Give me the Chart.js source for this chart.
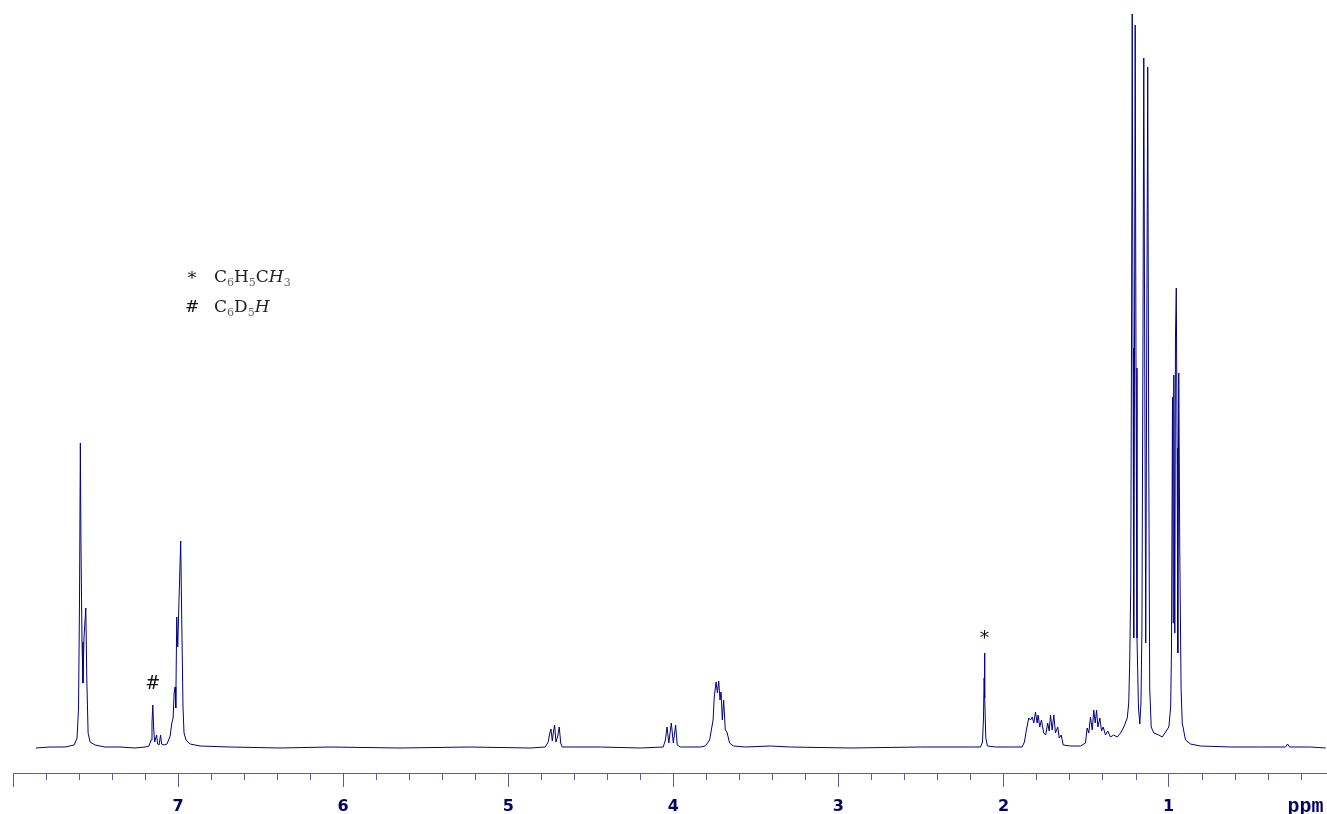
<!DOCTYPE html>
<html>
<head>
<meta charset="utf-8">
<script src="https://cdn.jsdelivr.net/npm/chart.js@4.4.1/dist/chart.umd.min.js"></script>
<style>
  html, body { margin: 0; padding: 0; background: #fff; }
  #wrap { width: 1327px; height: 814px; }
</style>
</head>
<body>
<div id="wrap"><canvas id="nmr" width="1327" height="814"></canvas></div>
<script>
// chemical shift (ppm) and signal height
const shifts = [
  7.861, 7.776, 7.685, 7.630, 7.612, 7.603, 7.597, 7.592, 7.588, 7.582,
  7.576, 7.570, 7.559, 7.553, 7.545, 7.533, 7.503, 7.442, 7.352, 7.261,
  7.200, 7.176, 7.164, 7.158, 7.153, 7.148, 7.142, 7.130, 7.124, 7.115,
  7.106, 7.100, 7.085, 7.067, 7.048, 7.038, 7.030, 7.024, 7.018, 7.014,
  7.008, 7.002, 6.994, 6.984, 6.978, 6.970, 6.964, 6.952, 6.927, 6.867,
  6.685, 6.382, 6.079, 5.655, 5.230, 4.867, 4.776, 4.758, 4.748, 4.741,
  4.733, 4.727, 4.719, 4.711, 4.700, 4.691, 4.682, 4.673, 4.442, 4.200,
  4.061, 4.048, 4.038, 4.027, 4.012, 4.000, 3.986, 3.976, 3.958, 3.836,
  3.806, 3.780, 3.759, 3.752, 3.741, 3.733, 3.725, 3.717, 3.711, 3.703,
  3.695, 3.685, 3.675, 3.659, 3.635, 3.564, 3.412, 3.291, 2.927, 2.503,
  2.200, 2.139, 2.127, 2.121, 2.117, 2.115, 2.112, 2.107, 2.097, 2.048,
  1.958, 1.887, 1.873, 1.861, 1.847, 1.836, 1.826, 1.816, 1.806, 1.796,
  1.790, 1.780, 1.770, 1.756, 1.744, 1.732, 1.723, 1.715, 1.705, 1.695,
  1.685, 1.671, 1.662, 1.650, 1.638, 1.594, 1.533, 1.503, 1.493, 1.483,
  1.473, 1.462, 1.453, 1.444, 1.436, 1.428, 1.416, 1.406, 1.396, 1.382,
  1.368, 1.352, 1.332, 1.311, 1.291, 1.271, 1.250, 1.241, 1.235, 1.229,
  1.224, 1.220, 1.215, 1.211, 1.206, 1.202, 1.197, 1.191, 1.182, 1.174,
  1.167, 1.161, 1.155, 1.150, 1.144, 1.138, 1.132, 1.126, 1.120, 1.114,
  1.105, 1.089, 1.059, 1.038, 1.018, 0.998, 0.987, 0.982, 0.976, 0.972,
  0.968, 0.962, 0.958, 0.953, 0.948, 0.944, 0.938, 0.932, 0.924, 0.917,
  0.897, 0.867, 0.806, 0.624, 0.442, 0.291, 0.279, 0.267, 0.139, 0.048
];
const intensities = [
  0, 1, 1, 3, 10, 40, 150, 305, 200, 106,
  65, 110, 140, 70, 15, 6, 3, 1, 1, 0,
  1, 2, 8, 25, 43, 20, 6, 13, 4, 3,
  13, 4, 3, 4, 12, 25, 30, 55, 61, 40,
  131, 101, 150, 207, 130, 40, 15, 8, 4, 2,
  1, 0, 1, 0, 1, 0, 1, 6, 15, 19,
  7, 15, 23, 6, 12, 21, 5, 1, 1, 0,
  1, 8, 21, 5, 25, 5, 23, 3, 1, 1,
  2, 8, 28, 51, 66, 55, 67, 48, 56, 28,
  48, 18, 16, 5, 2, 1, 2, 1, 0, 1,
  1, 1, 6, 30, 70, 95, 50, 10, 2, 1,
  1, 1, 6, 18, 30, 28, 31, 25, 36, 25,
  33, 21, 28, 15, 13, 25, 17, 33, 18, 33,
  15, 21, 10, 13, 3, 2, 2, 5, 20, 15,
  31, 18, 38, 25, 38, 21, 30, 17, 21, 13,
  17, 11, 13, 11, 15, 21, 30, 45, 88, 160,
  420, 734, 400, 110, 400, 723, 380, 110, 40, 24,
  45, 120, 400, 690, 380, 105, 400, 681, 300, 60,
  21, 15, 13, 11, 16, 21, 41, 100, 351, 125,
  373, 115, 410, 460, 300, 95, 375, 200, 60, 25,
  8, 4, 2, 1, 1, 1, 4, 1, 1, 0
];

const majorTicks = [1, 2, 3, 4, 5, 6, 7, 8];
const minorTicks = [
  0.2, 0.4, 0.6, 0.8, 1.2, 1.4, 1.6, 1.8, 2.2, 2.4, 2.6, 2.8,
  3.2, 3.4, 3.6, 3.8, 4.2, 4.4, 4.6, 4.8, 5.2, 5.4, 5.6, 5.8,
  6.2, 6.4, 6.6, 6.8, 7.2, 7.4, 7.6, 7.8
];
const unitLabel = 'ppm';

// peak markers
const markShifts = [7.153, 2.115];
const markLevels = [64, 109];
const markTexts = ['#', '*'];

// key in the upper left
const keySymbols = ['*', '#'];
const keyFormulas = [
  [['C', 'n'], ['6', 's'], ['H', 'n'], ['5', 's'], ['C', 'n'], ['H', 'i'], ['3', 's']],
  [['C', 'n'], ['6', 's'], ['D', 'n'], ['5', 's'], ['H', 'i']]
];

const axisColor = '#5b5b99';
const lineColor = '#000080';

const spectrumExtras = {
  id: 'spectrumExtras',
  afterDraw(chart) {
    const { ctx, scales: { x, y } } = chart;
    ctx.save();

    // minor ticks
    ctx.strokeStyle = axisColor;
    ctx.lineWidth = 1;
    ctx.beginPath();
    minorTicks.forEach(v => {
      const px = Math.round(x.getPixelForValue(v)) + 0.5;
      ctx.moveTo(px, x.top);
      ctx.lineTo(px, x.top + 7);
    });
    ctx.stroke();

    // unit label
    ctx.fillStyle = '#000066';
    ctx.font = 'bold 20px "Liberation Mono"';
    ctx.textAlign = 'center';
    ctx.textBaseline = 'alphabetic';
    ctx.fillText(unitLabel, x.getPixelForValue(0.17), 812);

    // peak markers
    ctx.fillStyle = '#111';
    ctx.font = '18px "DejaVu Serif"';
    ctx.textBaseline = 'middle';
    markTexts.forEach((t, i) => {
      ctx.fillText(t, x.getPixelForValue(markShifts[i]), y.getPixelForValue(markLevels[i]));
    });

    // key
    const drawFormula = (parts, left, base) => {
      let cx = left;
      parts.forEach(([t, kind]) => {
        if (kind === 's') {
          ctx.font = '11px "DejaVu Serif"';
          ctx.fillStyle = '#666';
          ctx.fillText(t, cx, base + 4);
        } else {
          ctx.font = (kind === 'i' ? 'italic ' : '') + '17px "DejaVu Serif"';
          ctx.fillStyle = '#222';
          ctx.fillText(t, cx, base);
        }
        cx += ctx.measureText(t).width;
      });
    };
    ctx.textAlign = 'left';
    ctx.textBaseline = 'alphabetic';
    keySymbols.forEach((s, i) => {
      const base = 282 + i * 30;
      ctx.font = '17px "DejaVu Serif"';
      ctx.fillStyle = '#111';
      ctx.textAlign = 'center';
      ctx.fillText(s, 192, s === '*' ? base + 2 : base);
      ctx.textAlign = 'left';
      drawFormula(keyFormulas[i], 214, base);
    });

    ctx.restore();
  }
};

new Chart(document.getElementById('nmr'), {
  type: 'line',
  plugins: [spectrumExtras],
  data: {
    datasets: [{
      data: shifts.map((s, i) => ({ x: s, y: intensities[i] })),
      borderColor: lineColor,
      borderWidth: 1,
      pointRadius: 0,
      tension: 0,
      fill: false
    }]
  },
  options: {
    responsive: false,
    animation: false,
    layout: { padding: { left: 13, right: 0, top: 0, bottom: 0 } },
    plugins: { legend: { display: false }, tooltip: { enabled: false } },
    scales: {
      x: {
        type: 'linear',
        reverse: true,
        min: 0.04,
        max: 8,
        afterBuildTicks: scale => { scale.ticks = majorTicks.map(v => ({ value: v })); },
        afterFit: scale => { scale.height = 41; },
        grid: { drawOnChartArea: false, drawTicks: true, tickLength: 14, color: axisColor, lineWidth: 1 },
        border: { display: true, color: axisColor, width: 1 },
        ticks: {
          autoSkip: false,
          maxRotation: 0,
          padding: 10,
          color: '#000066',
          font: { family: 'DejaVu Sans', weight: 'bold', size: 16 },
          callback: v => (v === 8 ? '' : String(v))
        }
      },
      y: { display: false, min: -25, max: 748 }
    }
  }
});
</script>
</body>
</html>
